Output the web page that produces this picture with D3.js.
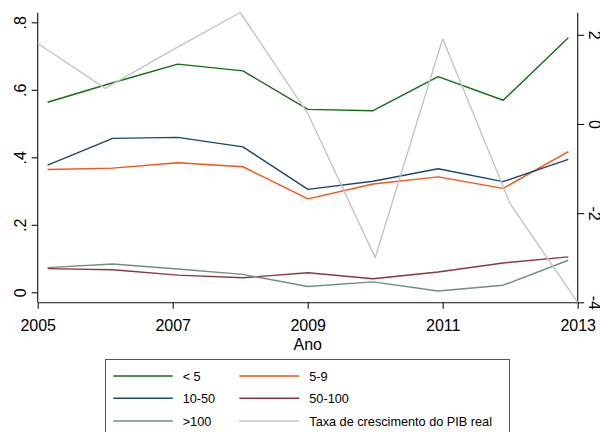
<!DOCTYPE html>
<html>
<head>
<meta charset="utf-8">
<script src="https://cdn.jsdelivr.net/npm/d3@7"></script>
<style>
  html, body { margin: 0; padding: 0; background: #fff; }
  svg { display: block; font-family: "Liberation Sans", Arial, Helvetica, sans-serif; }
</style>
</head>
<body>
<svg id="chart" width="600" height="432"></svg>
<script>
// Years on the horizontal axis
const years = [2005, 2006, 2007, 2008, 2009, 2010, 2011, 2012, 2013];

// Shares by firm size class (left axis)
const lt5    = [0.563, 0.621, 0.676, 0.656, 0.542, 0.538, 0.639, 0.569, 0.754];
const s5_9   = [0.364, 0.368, 0.384, 0.372, 0.277, 0.321, 0.342, 0.308, 0.417];
const s10_50 = [0.377, 0.456, 0.459, 0.431, 0.305, 0.329, 0.366, 0.328, 0.394];
const s50_100 = [0.070, 0.067, 0.051, 0.043, 0.058, 0.040, 0.060, 0.087, 0.105];
const gt100  = [0.073, 0.084, 0.069, 0.053, 0.017, 0.031, 0.004, 0.021, 0.095];

// Real GDP growth rate (right axis)
const pib = [1.81, 0.80, 1.66, 2.50, 0.24, -3.0, 1.91, -1.79, -4.0];

// Tick values and labels
const xTicks = [2005, 2007, 2009, 2011, 2013];
const leftTicks = [0, 0.2, 0.4, 0.6, 0.8];
const leftTickLabels = ["0", ".2", ".4", ".6", ".8"];
const rightTicks = [-4, -2, 0, 2];
const rightTickLabels = ["-4", "-2", "0", "2"];

const seriesNames = ["< 5", "5-9", "10-50", "50-100", ">100", "Taxa de crescimento do PIB real"];
const seriesColors = ["#117011", "#ff4f14", "#1a476f", "#90353b", "#6e8e84", "#c4c4c4"];

const svg = d3.select("#chart");

const plot = { left: 37.7, right: 577.7, top: 12.7, bottom: 302.3 };

// Axis scale for years, and the inset scale the share series are plotted on
const x = d3.scaleLinear().domain([2005, 2013]).range([plot.left, plot.right]);
const xShare = d3.scaleLinear().domain([2005, 2013]).range([47.6, 568.3]);
const yL = d3.scaleLinear().domain([0, 0.8]).range([292.3, 22.3]);
const yR = d3.scaleLinear().domain([-4, 2]).range([302.3, 34.8]);

const axisColor = "#111";

// Bottom axis
const gx = svg.append("g").attr("transform", `translate(0,${plot.bottom})`)
  .call(d3.axisBottom(x).tickValues(xTicks).tickFormat(d3.format("d")).tickSize(6.5).tickSizeOuter(0));
gx.select(".domain").attr("stroke", axisColor).attr("stroke-width", 1.1);
gx.selectAll(".tick line").attr("stroke", axisColor).attr("stroke-width", 1.1);
gx.selectAll(".tick text").attr("font-size", 16).attr("fill", "#000").attr("y", 0).attr("dy", 0)
  .attr("transform", "translate(0,28.7)");

// Left axis
const gl = svg.append("g").attr("transform", `translate(${plot.left},0)`)
  .call(d3.axisLeft(yL).tickValues(leftTicks).tickFormat((d, i) => leftTickLabels[i]).tickSize(6).tickSizeOuter(0));
gl.select(".domain").attr("d", `M0,${plot.top}V${plot.bottom}`).attr("stroke", axisColor).attr("stroke-width", 1.1);
gl.selectAll(".tick line").attr("stroke", axisColor).attr("stroke-width", 1.1);
gl.selectAll(".tick text").attr("font-size", 16).attr("fill", "#000")
  .attr("x", 0).attr("dy", 0).attr("text-anchor", "middle")
  .attr("transform", "translate(-11.7,0) rotate(-90)");

// Right axis
const gr = svg.append("g").attr("transform", `translate(${plot.right},0)`)
  .call(d3.axisRight(yR).tickValues(rightTicks).tickFormat((d, i) => rightTickLabels[i]).tickSize(6.5).tickSizeOuter(0));
gr.select(".domain").attr("d", `M0,${plot.top}V${plot.bottom}`).attr("stroke", axisColor).attr("stroke-width", 1.1);
gr.selectAll(".tick line").attr("stroke", axisColor).attr("stroke-width", 1.1);
gr.selectAll(".tick text").attr("font-size", 16).attr("fill", "#000")
  .attr("x", 0).attr("dy", 0).attr("text-anchor", "middle")
  .attr("transform", "translate(10.8,0) rotate(90)");

// Axis title
svg.append("text").attr("x", (plot.left + plot.right) / 2).attr("y", 349.5)
  .attr("text-anchor", "middle").attr("font-size", 16).attr("fill", "#000").text("Ano");

// Lines
const shareSeries = [lt5, s5_9, s10_50, s50_100, gt100];
const lineL = d3.line().x((d, i) => xShare(years[i])).y(d => yL(d));
const lineR = d3.line().x((d, i) => x(years[i])).y(d => yR(d));

const lines = svg.append("g").attr("fill", "none").attr("stroke-width", 1.4).attr("stroke-linejoin", "round");
shareSeries.forEach((s, k) => {
  lines.append("path").attr("d", lineL(s)).attr("stroke", seriesColors[k]);
});
lines.append("path").attr("d", lineR(pib)).attr("stroke", seriesColors[5]);

// Legend
const legend = svg.append("g");
legend.append("rect").attr("x", 105.5).attr("y", 359.5).attr("width", 404).attr("height", 80)
  .attr("fill", "#fff").attr("stroke", "#555").attr("stroke-width", 1);

const rowsY = [376, 398.3, 421];
const cols = [{ x0: 113.3, x1: 172.7, tx: 182.7 }, { x0: 239.3, x1: 299.3, tx: 309.3 }];
seriesNames.forEach((name, k) => {
  const r = Math.floor(k / 2), c = k % 2;
  const col = cols[c];
  legend.append("line").attr("x1", col.x0).attr("x2", col.x1)
    .attr("y1", rowsY[r]).attr("y2", rowsY[r])
    .attr("stroke", seriesColors[k]).attr("stroke-width", 1.4);
  legend.append("text").attr("x", col.tx).attr("y", rowsY[r] + 4.5)
    .attr("font-size", 12.7).attr("fill", "#000").text(name);
});
</script>
</body>
</html>
